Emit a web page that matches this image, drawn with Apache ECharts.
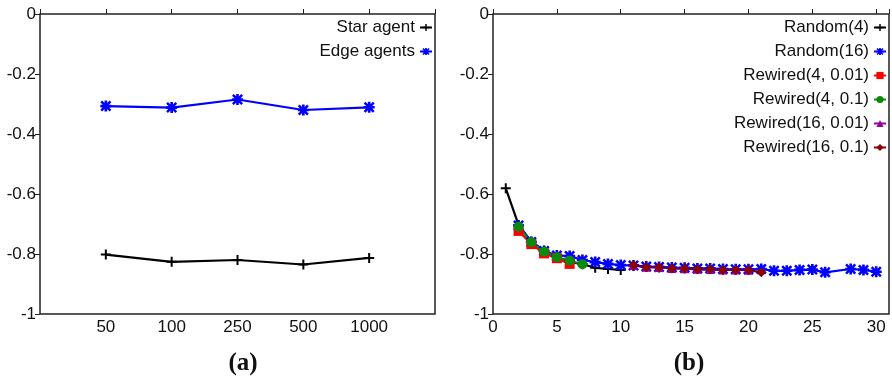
<!DOCTYPE html>
<html>
<head>
<meta charset="utf-8">
<script src="https://cdn.jsdelivr.net/npm/echarts@6/dist/echarts.min.js"></script>
<style>
  html, body { margin: 0; padding: 0; background: #fff; }
  #chart { width: 892px; height: 378px; }
</style>
</head>
<body>
<div id="chart"></div>
<script>
// panel (a)
const sizes = ['50', '100', '250', '500', '1000'];
const starAgent = [-0.802, -0.826, -0.820, -0.835, -0.813];
const edgeAgents = [-0.307, -0.312, -0.285, -0.320, -0.311];

// panel (b)
const random4X = [1, 2, 3, 4, 5, 6, 7, 8, 9, 10];
const random4 = [-0.581, -0.703, -0.759, -0.789, -0.811, -0.826, -0.834, -0.846, -0.850, -0.853];
const random16X = [2, 3, 4, 5, 6, 7, 8, 9, 10, 11, 12, 13, 14, 15, 16, 17, 18, 19, 20, 21, 22, 23, 24, 25, 26, 28, 29, 30];
const random16 = [-0.705, -0.760, -0.790, -0.805, -0.807, -0.820, -0.827, -0.833, -0.837, -0.838, -0.842, -0.843, -0.845, -0.846, -0.848, -0.848, -0.850, -0.851, -0.851, -0.850, -0.856, -0.856, -0.853, -0.852, -0.861, -0.850, -0.853, -0.859];
const rew4a001X = [2, 3, 4, 5, 6];
const rew4a001 = [-0.723, -0.767, -0.798, -0.814, -0.833];
const rew4a01X = [2, 3, 4, 5, 6, 7];
const rew4a01 = [-0.709, -0.761, -0.792, -0.811, -0.822, -0.834];
const rew16a001X = [11, 12, 13, 14, 15, 16, 17, 18, 19, 20];
const rew16a001 = [-0.838, -0.844, -0.845, -0.848, -0.849, -0.851, -0.852, -0.853, -0.853, -0.854];
const rew16a01X = [11, 12, 13, 14, 15, 16, 17, 18, 19, 20, 21];
const rew16a01 = [-0.837, -0.844, -0.844, -0.848, -0.848, -0.851, -0.851, -0.853, -0.853, -0.853, -0.861];

const pairs = (xs, ys) => xs.map((x, i) => [x, ys[i]]);

const plusSym = 'path://M4,0H6V4H10V6H6V10H4V6H0V4H4Z';
const starSym = 'path://M3.8,0H6.2V3.8H10V6.2H6.2V10H3.8V6.2H0V3.8H3.8Z M0,1.6L1.6,0L10,8.4L8.4,10Z M8.4,0L10,1.6L1.6,10L0,8.4Z';

const font = 'Liberation Sans, Arial, sans-serif';
const tickLabel = { fontSize: 17, color: '#111', fontFamily: font };
const serif = 'Liberation Serif, Times New Roman, serif';

function yAxes(grid) {
  return [{
    type: 'value', gridIndex: grid, min: -1, max: 0, interval: 0.2,
    axisLine: { show: false }, splitLine: { show: false },
    axisTick: { show: true, inside: false, length: 3, lineStyle: { color: '#222', width: 1 } },
    axisLabel: { ...tickLabel, margin: 4, formatter: v => String(Math.round(v * 10) / 10) }
  }, {
    type: 'value', gridIndex: grid, min: -1, max: 0, interval: 0.2, position: 'right',
    axisLine: { show: false }, splitLine: { show: false }, axisLabel: { show: false },
    axisTick: { show: true, inside: true, length: 5, lineStyle: { color: '#222', width: 1 } }
  }];
}

function xAxes(grid, max, interval, fmt) {
  return [{
    type: 'value', gridIndex: grid, min: 0, max, interval,
    axisLine: { show: false }, splitLine: { show: false },
    axisTick: { inside: true, length: 5, lineStyle: { color: '#222' } },
    axisLabel: { ...tickLabel, margin: 5, formatter: fmt }
  }, {
    type: 'value', gridIndex: grid, min: 0, max, interval, position: 'top',
    axisLine: { show: false }, splitLine: { show: false }, axisLabel: { show: false },
    axisTick: { inside: false, length: 4, lineStyle: { color: '#222' } }
  }];
}

function line(name, data, color, symbol, size, xi, yi) {
  return {
    name, type: 'line', data, xAxisIndex: xi, yAxisIndex: yi,
    symbol, symbolSize: size, showSymbol: true,
    lineStyle: { color, width: 2.2 }, itemStyle: { color },
    animation: false
  };
}

const legendBase = {
  orient: 'vertical', align: 'right', top: 14,
  itemWidth: 12, itemHeight: 9, itemGap: 7,
  textStyle: { ...tickLabel }
};

const chart = echarts.init(document.getElementById('chart'));
chart.setOption({
  backgroundColor: '#fff',
  animation: false,
  grid: [
    { left: 40, top: 14, width: 395, height: 300, show: true, borderColor: '#222', borderWidth: 1.5 },
    { left: 493, top: 14, width: 396, height: 300, show: true, borderColor: '#222', borderWidth: 1.5 }
  ],
  title: [
    { text: '(a)', left: 238, top: 346, textAlign: 'center',
      textStyle: { fontFamily: serif, fontWeight: 'bold', fontSize: 25, color: '#111' } },
    { text: '(b)', left: 684, top: 346, textAlign: 'center',
      textStyle: { fontFamily: serif, fontWeight: 'bold', fontSize: 25, color: '#111' } }
  ],
  legend: [
    { ...legendBase, data: ['Star agent', 'Edge agents'], right: 454 },
    { ...legendBase, right: 0,
      data: ['Random(4)', 'Random(16)', 'Rewired(4, 0.01)', 'Rewired(4, 0.1)', 'Rewired(16, 0.01)', 'Rewired(16, 0.1)'] }
  ],
  xAxis: [
    ...xAxes(0, 6, 1, v => sizes[v - 1] || ''),
    ...xAxes(1, 31, 5, v => (v % 5 === 0 ? String(v) : ''))
  ],
  yAxis: [...yAxes(0), ...yAxes(1)],
  series: [
    line('Star agent', pairs([1, 2, 3, 4, 5], starAgent), '#000000', plusSym, 10, 0, 0),
    line('Edge agents', pairs([1, 2, 3, 4, 5], edgeAgents), '#0000ff', starSym, 11, 0, 0),
    line('Random(4)', pairs(random4X, random4), '#000000', plusSym, 10, 2, 2),
    line('Random(16)', pairs(random16X, random16), '#0000ff', starSym, 11, 2, 2),
    line('Rewired(4, 0.01)', pairs(rew4a001X, rew4a001), '#ff0000', 'rect', 10, 2, 2),
    line('Rewired(4, 0.1)', pairs(rew4a01X, rew4a01), '#0a8a0a', 'circle', 10, 2, 2),
    line('Rewired(16, 0.01)', pairs(rew16a001X, rew16a001), '#990099', 'triangle', 9, 2, 2),
    line('Rewired(16, 0.1)', pairs(rew16a01X, rew16a01), '#8b0000', 'diamond', 10, 2, 2)
  ]
});
</script>
</body>
</html>
